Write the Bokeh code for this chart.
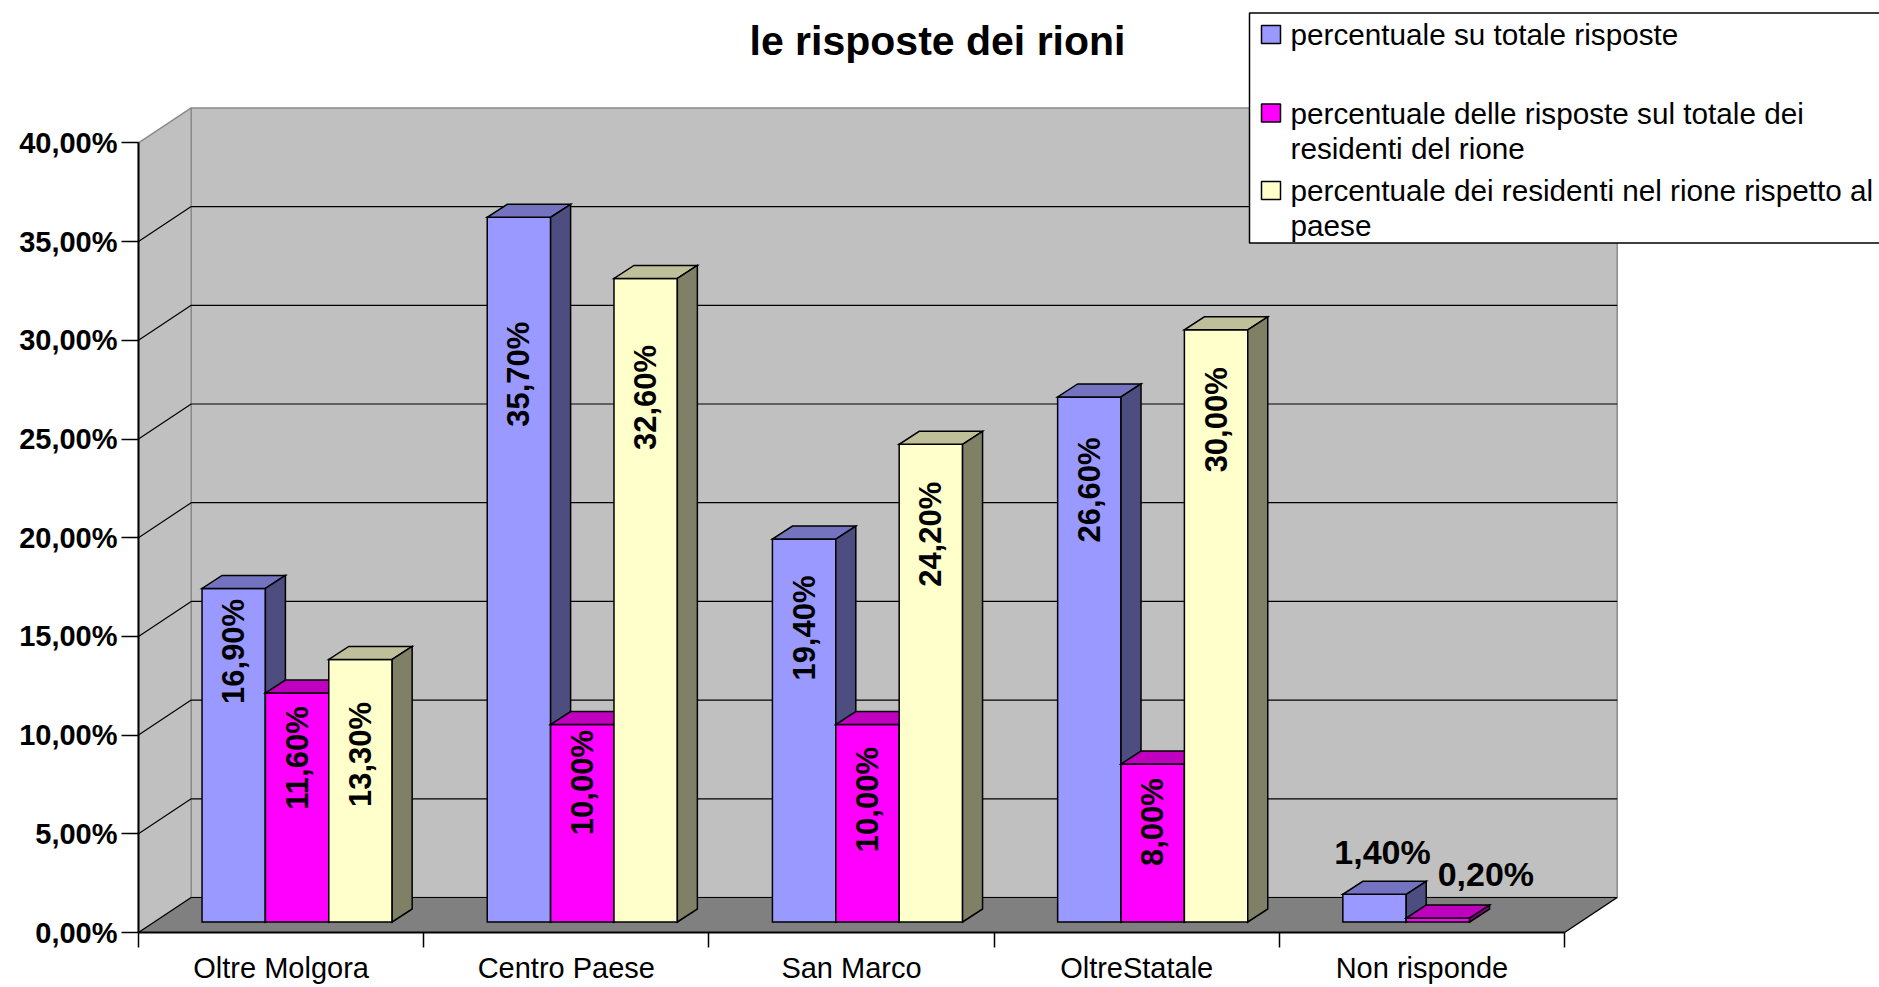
import math
from bokeh.plotting import figure
from bokeh.models import Range1d, LinearAxis, FixedTicker, CustomJSTickFormatter, ColumnDataSource
from bokeh.core.properties import value
from bokeh.embed import file_html
from bokeh.resources import INLINE

# ---------------- data ----------------
categories = ["Oltre Molgora", "Centro Paese", "San Marco", "OltreStatale", "Non risponde"]
legend_lines = [
    ["percentuale su totale risposte"],
    ["percentuale delle risposte sul totale dei", "residenti del rione"],
    ["percentuale dei residenti nel rione rispetto al", "paese"],
]
tot_risposte = [16.9, 35.7, 19.4, 26.6, 1.4]
risposte_su_residenti = [11.6, 10.0, 10.0, 8.0, 0.2]
residenti_su_paese = [13.3, 32.6, 24.2, 30.0, None]
y_ticks = [0, 5, 10, 15, 20, 25, 30, 35, 40]
title_text = "le risposte dei rioni"

series = [tot_risposte, risposte_su_residenti, residenti_su_paese]

# ---------------- styles / layout ----------------
FRONT = ["#9999FF", "#FF00FF", "#FFFFCC"]
TOP = ["#7373BF", "#BF00BF", "#BFBF99"]
SIDE = ["#4D4D80", "#800080", "#808066"]
WALL = "#C0C0C0"
FLOOR = "#808080"
FONT = "Liberation Sans"

FIG_W, FIG_H = 1879, 987
X0, CAT = 138.0, 285.2      # px of x=0, px per category
Y0, UNIT = 932.0, 19.74     # px (from top) of y=0, px per percent point


def dx(px):
    return px / CAT


def dy(px):
    return px / UNIT


def fx(px):
    return (px - X0) / CAT


def fy(px):
    return (Y0 - px) / UNIT


DEPTH_X, DEPTH_Y = dx(52.7), dy(35.0)     # wall depth offset
BAR_FX, BAR_FY = dx(16.0), dy(10.5)       # bars front face offset
BAR_DX, BAR_DY = dx(20.0), dy(13.0)       # bar depth
GAP = 1.5
BW = 1.0 / (len(series) + GAP)

# label drop (px) of rotated label centre below the bar top
LABEL_DROP = [[63, 157, 89, 93], [65, 58, 75, 58], [95, 119, 90, 90]]
# horizontal labels (last category): x shift and lift (px)
LABEL_SHIFT = [8, 48, 0]
LABEL_LIFT = [42, 44, 42]

ncat = len(categories)
ymax = y_ticks[-1]

p = figure(width=FIG_W, height=FIG_H,
           x_range=Range1d(fx(0), fx(FIG_W)),
           y_range=Range1d(fy(FIG_H), fy(0)),
           output_backend="svg", toolbar_location=None,
           x_axis_type=None, y_axis_type=None, min_border=0)
p.outline_line_color = None
p.background_fill_color = "white"
p.border_fill_color = "white"

# ---------------- walls and floor ----------------
p.patch([DEPTH_X, ncat + DEPTH_X, ncat + DEPTH_X, DEPTH_X],
        [DEPTH_Y, DEPTH_Y, ymax + DEPTH_Y, ymax + DEPTH_Y],
        fill_color=WALL, line_color="#8a8a8a", line_width=1.5)
p.patch([0, DEPTH_X, DEPTH_X, 0], [0, DEPTH_Y, ymax + DEPTH_Y, ymax],
        fill_color=WALL, line_color="#8a8a8a", line_width=1.5)
p.patch([0, ncat, ncat + DEPTH_X, DEPTH_X], [0, 0, DEPTH_Y, DEPTH_Y],
        fill_color=FLOOR, line_color=None)

grid_xs, grid_ys = [], []
for t in y_ticks[:-1]:
    grid_xs.append([0, DEPTH_X, ncat + DEPTH_X])
    grid_ys.append([t, t + DEPTH_Y, t + DEPTH_Y])
p.multi_line(grid_xs, grid_ys, line_color="black", line_width=1.2)
p.line([ncat, ncat + DEPTH_X], [0, DEPTH_Y], line_color="black", line_width=1.5)

# ---------------- bars ----------------
xs, ys, fills = [], [], []
lab_x, lab_y, lab_t = [], [], []
hl_x, hl_y, hl_t = [], [], []
for i in range(ncat):
    for k, vals in enumerate(series):
        v = vals[i]
        if v is None:
            continue
        xl = i + 0.5 - len(series) / 2 * BW + k * BW + BAR_FX
        xr = xl + BW
        yb = BAR_FY
        yt = BAR_FY + v
        xs += [[xl, xr, xr, xl],
               [xl, xr, xr + BAR_DX, xl + BAR_DX],
               [xr, xr + BAR_DX, xr + BAR_DX, xr]]
        ys += [[yb, yb, yt, yt],
               [yt, yt, yt + BAR_DY, yt + BAR_DY],
               [yb, yb + BAR_DY, yt + BAR_DY, yt]]
        fills += [FRONT[k], TOP[k], SIDE[k]]
        txt = f"{v:.2f}".replace(".", ",") + "%"
        if i < len(LABEL_DROP[k]):
            lab_x.append((xl + xr) / 2)
            lab_y.append(yt - dy(LABEL_DROP[k][i]))
            lab_t.append(txt)
        else:
            hl_x.append((xl + xr) / 2 + dx(LABEL_SHIFT[k]))
            hl_y.append(yt + dy(LABEL_LIFT[k]))
            hl_t.append(txt)

p.patches("xs", "ys", source=ColumnDataSource(dict(xs=xs, ys=ys, fill=fills)),
          fill_color="fill", line_color="black", line_width=1.5, line_join="miter")

p.text(lab_x, lab_y, text=lab_t, angle=math.pi / 2, text_align="center",
       text_baseline="middle", text_font=value(FONT), text_font_style="bold",
       text_font_size="31px", text_color="black")
p.text(hl_x, hl_y, text=hl_t, text_align="center", text_baseline="alphabetic",
       text_font=value(FONT), text_font_style="bold", text_font_size="34px",
       text_color="black")

# ---------------- axes ----------------
yax = LinearAxis(fixed_location=0, bounds=(0, ymax),
                 ticker=FixedTicker(ticks=y_ticks),
                 formatter=CustomJSTickFormatter(code="return tick.toFixed(2).replace('.', ',') + '%'"))
yax.axis_line_width = 2
yax.major_tick_out = 17
yax.major_tick_in = 0
yax.major_tick_line_width = 1.5
yax.minor_tick_line_color = None
yax.major_label_standoff = 4
yax.major_label_text_font = FONT
yax.major_label_text_font_style = "bold"
yax.major_label_text_font_size = "29px"
yax.major_label_text_color = "black"
p.add_layout(yax, "left")

xax = LinearAxis(fixed_location=0, bounds=(0, ncat),
                 ticker=FixedTicker(ticks=[i + 0.5 for i in range(ncat)],
                                    minor_ticks=list(range(ncat + 1))),
                 formatter=CustomJSTickFormatter(args=dict(cats=categories),
                                                 code="return cats[Math.floor(tick)]"))
xax.axis_line_width = 2
xax.major_tick_line_color = None
xax.major_tick_out = 15
xax.major_tick_in = 0
xax.minor_tick_out = 15
xax.minor_tick_in = 0
xax.minor_tick_line_width = 1.5
xax.minor_tick_line_color = "black"
xax.major_label_standoff = 4
xax.major_label_text_font = FONT
xax.major_label_text_font_size = "29px"
xax.major_label_text_color = "black"
p.add_layout(xax, "below")

# ---------------- title ----------------
p.text([fx(937)], [fy(40.5)], text=[title_text], text_align="center",
       text_baseline="alphabetic", text_font=value(FONT), text_font_style="bold",
       text_font_size="41px", text_color="black")

# ---------------- legend ----------------
p.quad(left=[fx(1249)], right=[fx(1900)], top=[fy(12.5)], bottom=[fy(242.5)],
       fill_color="white", line_color="black", line_width=1.5)
entry_centers = [34, 112.5, 190]
sw_l, sw_r, sw_t, sw_b = [], [], [], []
tx, ty, tt = [], [], []
for k, lines in enumerate(legend_lines):
    c = entry_centers[k]
    sw_l.append(fx(1261)); sw_r.append(fx(1280))
    sw_t.append(fy(c - 9)); sw_b.append(fy(c + 9))
    for j, ln in enumerate(lines):
        tx.append(fx(1290)); ty.append(fy(c + 35 * j)); tt.append(ln)
p.quad(left=sw_l, right=sw_r, top=sw_t, bottom=sw_b, fill_color=FRONT,
       line_color="black", line_width=1.5)
p.text(tx, ty, text=tt, text_align="left", text_baseline="middle",
       text_font=value(FONT), text_font_size="29.7px", text_color="black")

open("out.html", "w").write(file_html(p, INLINE))
